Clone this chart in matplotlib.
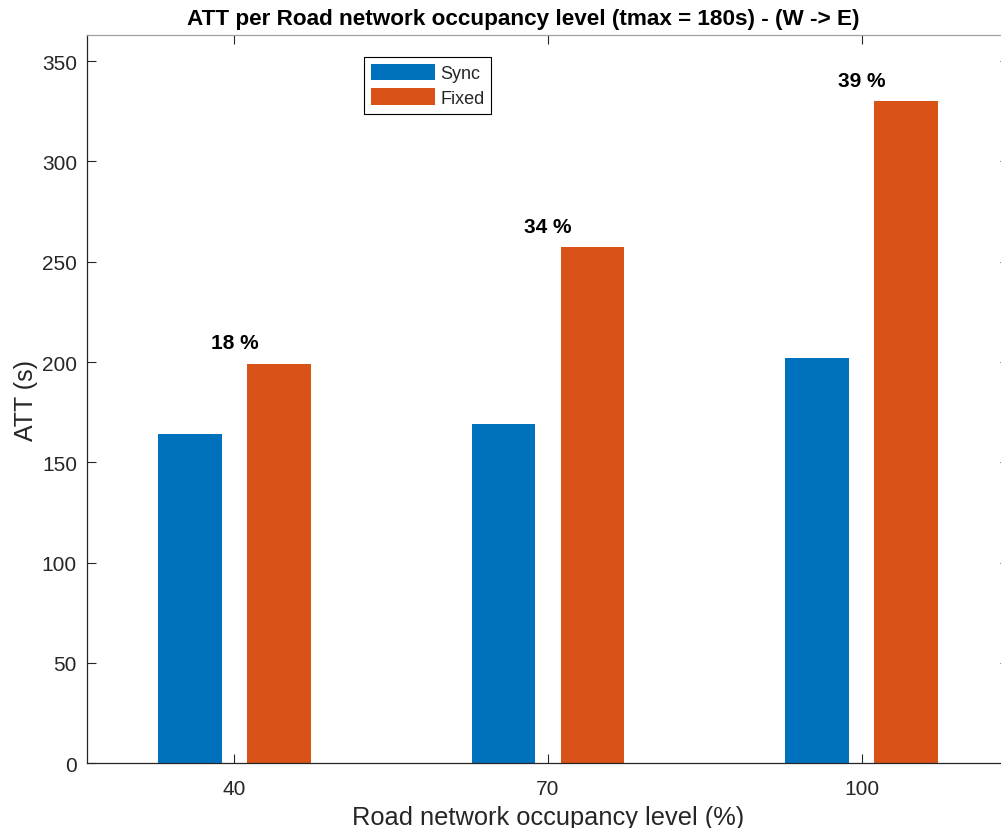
import matplotlib
matplotlib.use("Agg")
import matplotlib.pyplot as plt
import numpy as np

plt.rcParams['font.family'] = ['Liberation Sans', 'DejaVu Sans']

categories = ['40', '70', '100']
sync_vals = [164.1, 168.9, 202.0]
fixed_vals = [199.0, 257.2, 329.9]
pct_labels = ['18 %', '34 %', '39 %']
series_names = ['Sync', 'Fixed']
yticks = [0, 50, 100, 150, 200, 250, 300, 350]

c_sync = '#0072BD'
c_fixed = '#D95319'
tick_col = '#262626'

W, H = 1001, 829
fig = plt.figure(figsize=(W / 100, H / 100), dpi=100)
left = 86.7 / W
bottom = (H - 764.3) / H
width = (1009.4 - 86.7) / W
height = (764.3 - 36) / H
ax = fig.add_axes([left, bottom, width, height])

x = np.arange(1, len(categories) + 1)
bw = 0.203
off = 0.142
ax.bar(x - off, sync_vals, bw, color=c_sync, label=series_names[0], zorder=2)
ax.bar(x + off, fixed_vals, bw, color=c_fixed, label=series_names[1], zorder=2)

for xi, fv, lab in zip(x, fixed_vals, pct_labels):
    ax.text(xi, fv + 10.5, lab, ha='center', va='center', fontsize=15,
            fontweight='bold', color='black')

ax.set_xlim(1 - 0.4705, 3 + 0.4705)
ax.set_ylim(0, 363)
ax.set_xticks(x)
ax.set_xticklabels(categories)
ax.set_yticks(yticks)

ax.tick_params(axis='both', direction='in', length=6.5, width=0.8,
               colors=tick_col, labelsize=15, top=True, right=True)
ax.tick_params(axis='x', pad=11)
ax.tick_params(axis='y', pad=7)
for s in ['left', 'bottom']:
    ax.spines[s].set_color(tick_col)
    ax.spines[s].set_linewidth(0.9)
for s in ['top', 'right']:
    ax.spines[s].set_color('#a0a0a0')
    ax.spines[s].set_linewidth(0.9)

ax.set_xlabel('Road network occupancy level (%)', fontsize=18.3, color=tick_col, labelpad=5)
ax.set_ylabel('ATT (s)', fontsize=18, color=tick_col, labelpad=3)

fig.text(523.4 / W, 1 - 19.5 / H,
         'ATT per Road network occupancy level (tmax = 180s) - (W -> E)',
         ha='center', va='center', fontsize=16.2, fontweight='bold', color='black')

leg = ax.legend(loc='upper left', bbox_to_anchor=(364 / W, 1 - 58 / H),
                bbox_transform=fig.transFigure, borderaxespad=0,
                fontsize=13, handlelength=3.55, handleheight=1.0,
                handletextpad=0.3, labelspacing=0.35, borderpad=0.38,
                fancybox=False, framealpha=1, edgecolor='black')
leg.get_frame().set_linewidth(0.8)
for t in leg.get_texts():
    t.set_color(tick_col)

fig.savefig('out.png', dpi=100)
